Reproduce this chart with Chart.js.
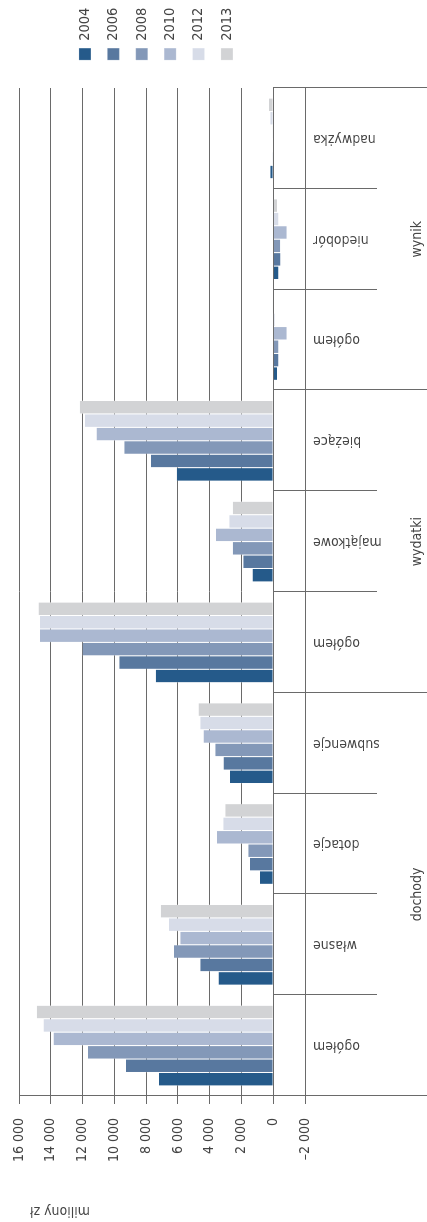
<!DOCTYPE html>
<html>
<head>
<meta charset="utf-8">
<script src="https://cdn.jsdelivr.net/npm/chart.js@4.4.1/dist/chart.umd.min.js"></script>
<style>
  html, body { margin: 0; padding: 0; background: #ffffff; overflow: hidden; }
  body { width: 427px; height: 1222px; position: relative; }
  #wrap {
    position: absolute; left: 0; top: 0; width: 1222px; height: 427px;
    transform-origin: 0 0; transform: translate(0px, 1222px) rotate(-90deg);
  }
  canvas { display: block; }
</style>
</head>
<body>
<div id="wrap"><canvas id="c" width="1222" height="427"></canvas></div>
<script>
// ---- data ----
const categories = ['ogółem', 'własne', 'dotacje', 'subwencje', 'ogółem', 'majątkowe', 'bieżące', 'ogółem', 'niedobór', 'nadwyżka'];
const groupNames = ['dochody', 'wydatki', 'wynik'];
const groupSizes = [4, 3, 3];
const years = ['2004', '2006', '2008', '2010', '2012', '2013'];
const v2004 = [7190, 3437, 838, 2725, 7399, 1297, 6067, -230, -335, 190];
const v2006 = [9265, 4590, 1467, 3123, 9684, 1882, 7692, -335, -460, 40];
const v2008 = [11654, 6246, 1572, 3647, 12010, 2553, 9369, -335, -440, 30];
const v2010 = [13834, 5848, 3542, 4381, 14672, 3597, 11130, -857, -857, 20];
const v2012 = [14462, 6560, 3144, 4590, 14672, 2761, 11842, -100, -335, 180];
const v2013 = [14882, 7084, 3018, 4695, 14777, 2553, 12178, 20, -230, 260];
const yTicks = [-2000, 0, 2000, 4000, 6000, 8000, 10000, 12000, 14000, 16000];
const axisTitle = 'miliony zł';

const colors = ['#255a8a', '#58789f', '#8398b8', '#abb8d1', '#d7dce8', '#d2d3d5'];
const seriesValues = [v2004, v2006, v2008, v2010, v2012, v2013];

const FONT = "'Liberation Sans Narrow', 'DejaVu Sans Condensed', 'Arial Narrow', sans-serif";
const TXT = '#444444';
const LINE = '#6a6a6a';
const FS = 14;

Chart.defaults.font.family = FONT;
Chart.defaults.font.size = FS;
Chart.defaults.color = TXT;

function fmt(v) {
  if (v === 0) return '0';
  const s = String(Math.abs(v)).replace(/\B(?=(\d{3})+(?!\d))/g, ' ');
  return (v < 0 ? '\u2013' : '') + s;
}

const extras = {
  id: 'extras',
  afterDraw(chart) {
    const ctx = chart.ctx;
    const xs = chart.scales.x;
    const ys = chart.scales.y;
    const n = categories.length;
    const w = (xs.right - xs.left) / n;
    const y0 = ys.getPixelForValue(0);
    const bounds = [0];
    groupSizes.forEach(s => bounds.push(bounds[bounds.length - 1] + s));
    ctx.save();
    ctx.strokeStyle = LINE;
    ctx.lineWidth = 1;
    for (let i = 0; i <= n; i++) {
      const px = Math.round(xs.left + i * w) + 0.5;
      const isGroup = bounds.includes(i);
      ctx.beginPath();
      ctx.moveTo(px, Math.round(y0));
      ctx.lineTo(px, isGroup ? chart.height : 377);
      ctx.stroke();
    }
    ctx.fillStyle = TXT;
    ctx.font = FS + 'px ' + FONT;
    ctx.textAlign = 'center';
    ctx.textBaseline = 'alphabetic';
    for (let g = 0; g < groupNames.length; g++) {
      const a = xs.left + bounds[g] * w;
      const b = xs.left + bounds[g + 1] * w;
      ctx.fillText(groupNames[g], (a + b) / 2, 421);
    }
    ctx.translate(11, 60);
    ctx.rotate(-Math.PI / 2);
    ctx.textBaseline = 'middle';
    ctx.fillText(axisTitle, 0, 0);
    ctx.restore();
  }
};

new Chart(document.getElementById('c'), {
  type: 'bar',
  data: {
    labels: categories,
    datasets: years.map((y, i) => ({
      label: y,
      data: seriesValues[i],
      backgroundColor: colors[i],
      borderColor: 'rgba(255,255,255,0.75)',
      borderWidth: { left: 0.5, right: 0.5, top: 0, bottom: 0 },
      borderSkipped: 'start',
      categoryPercentage: 0.8,
      barPercentage: 1.0,
      yAxisID: 'y'
    }))
  },
  options: {
    responsive: false,
    animation: false,
    devicePixelRatio: 1,
    layout: { padding: { top: 19, left: 0, right: 0, bottom: 0 } },
    plugins: {
      legend: {
        position: 'right',
        align: 'start',
        maxWidth: 74,
        title: { display: true, text: ' ', padding: { top: 32.8, bottom: 0 }, font: { size: 10 } },
        labels: {
          boxWidth: 12, boxHeight: 12, padding: 13.9,
          font: { size: 14.5, family: FONT }, color: TXT
        }
      },
      tooltip: { enabled: false }
    },
    scales: {
      x: {
        type: 'category',
        offset: true,
        grid: { display: false, drawTicks: false },
        border: { display: false },
        ticks: { maxRotation: 90, minRotation: 90, padding: 8, autoSkip: false, color: TXT },
        afterFit: s => { s.height = 122; }
      },
      y: {
        type: 'linear',
        position: 'left',
        min: -2000, max: 16000,
        afterBuildTicks: s => { s.ticks = yTicks.map(v => ({ value: v })); },
        grid: { color: LINE, lineWidth: 1, tickLength: 8, drawTicks: true },
        border: { display: true, color: LINE, width: 1 },
        ticks: { padding: 14, callback: v => fmt(v), color: TXT },
        afterFit: s => { s.width = 126; s.paddingTop = 0; s.paddingBottom = 0; }
      },
      yR: {
        type: 'linear',
        position: 'right',
        display: true,
        grid: { display: false, drawTicks: false },
        border: { display: false },
        ticks: { display: false },
        afterFit: s => { s.width = 14; s.paddingTop = 0; s.paddingBottom = 0; }
      }
    }
  },
  plugins: [extras]
});
</script>
</body>
</html>
